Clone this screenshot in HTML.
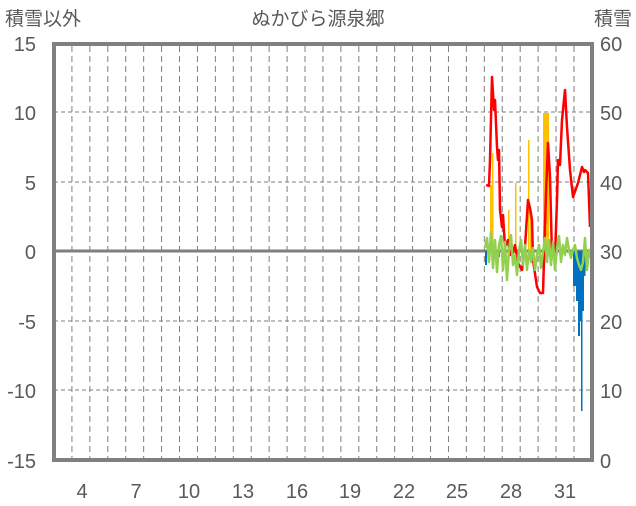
<!DOCTYPE html>
<html><head><meta charset="utf-8"><style>
html,body{margin:0;padding:0;background:#fff}
text{font-family:"Liberation Sans","Noto Sans CJK JP",sans-serif;fill:#595959}
</style></head><body>
<svg width="636" height="501" xmlns="http://www.w3.org/2000/svg">
<rect width="636" height="501" fill="#fff"/>
<g stroke="#7f7f7f" stroke-width="1" stroke-dasharray="4,3">
<line x1="54" y1="112" x2="592" y2="112"/>
<line x1="54" y1="182" x2="592" y2="182"/>
<line x1="54" y1="321" x2="592" y2="321"/>
<line x1="54" y1="390" x2="592" y2="390"/>
</g>
<g stroke="#7f7f7f" stroke-width="1" stroke-dasharray="6,4" id="vg"></g>
<line x1="54" y1="251" x2="592" y2="251" stroke="#7f7f7f" stroke-width="3"/>
<g fill="#ffc000">
<rect x="490" y="185" width="3" height="66"/>
<rect x="492" y="153" width="1.5" height="98"/>
<rect x="508" y="210" width="1.5" height="41"/>
<rect x="515" y="183" width="1.5" height="68"/>
<rect x="528" y="140" width="1.5" height="111"/>
<rect x="530" y="215" width="2" height="36"/>
<rect x="543" y="113" width="6" height="138"/>
</g>
<g fill="#0070c0">
<rect x="485" y="251" width="2" height="14"/>
<rect x="498" y="251" width="2" height="6"/>
<rect x="573" y="251" width="3" height="35"/>
<rect x="576" y="251" width="2" height="50"/>
<rect x="578" y="251" width="2" height="85"/>
<rect x="580" y="251" width="2" height="70"/>
<rect x="581" y="251" width="1.5" height="160"/>
<rect x="582" y="251" width="2" height="60"/>
<rect x="584" y="251" width="1.5" height="25"/>
</g>
<polyline fill="none" stroke="#ff0000" stroke-width="2.5" stroke-linejoin="round" points="486,185 489,186 490,160 492,77 494,110 495,100 497,147 498,160 499,150 500,210 502,227 503,215 505,247 508,240 510,255 513,253 515,245 518,263 522,270 525,247 528,200 530,208 532,220 533,260 537,287 540,293 543,293 546,193 548,143 550,177 552,257 555,257 557,200 558,160 560,165 562,120 565,90 567,127 570,170 573,197 578,183 580,175 582,167 584,172 585,170 588,173 590,227"/>
<polyline fill="none" stroke="#92d050" stroke-width="2.5" stroke-linejoin="round" points="485,248 487,238 489,262 491,232 493,268 495,240 497,272 499,245 501,236 503,270 505,242 507,280 509,250 511,235 513,265 515,255 517,275 519,250 521,240 523,265 525,245 527,270 529,250 531,262 533,248 535,270 537,255 539,245 541,268 543,252 545,238 547,262 549,240 551,265 553,242 555,270 557,248 559,236 561,262 563,245 565,255 567,238 569,250 571,258 573,250 575,245 577,258 579,265 581,270 583,262 585,238 587,270 589,250 591,258"/>
<line x1="485" y1="460" x2="592" y2="460" stroke="#7030a0" stroke-width="2.5"/>
<rect x="54" y="44" width="538" height="416" fill="none" stroke="#808080" stroke-width="4"/>
<g font-size="20" text-anchor="end">
<text x="36" y="51">15</text><text x="36" y="120">10</text><text x="36" y="190">5</text>
<text x="36" y="259">0</text><text x="36" y="329">-5</text><text x="36" y="398">-10</text><text x="36" y="468">-15</text>
</g>
<g font-size="20" text-anchor="start">
<text x="600" y="51">60</text><text x="600" y="120">50</text><text x="600" y="190">40</text>
<text x="600" y="259">30</text><text x="600" y="329">20</text><text x="600" y="398">10</text><text x="600" y="468">0</text>
</g>
<g font-size="20" text-anchor="middle">
<text x="82" y="498">4</text><text x="136" y="498">7</text><text x="189" y="498">10</text>
<text x="243" y="498">13</text><text x="297" y="498">16</text><text x="350" y="498">19</text>
<text x="404" y="498">22</text><text x="457" y="498">25</text><text x="511" y="498">28</text><text x="565" y="498">31</text>
</g>
<text x="5" y="25" font-size="19">積雪以外</text>
<text x="318" y="25" font-size="19" text-anchor="middle">ぬかびら源泉郷</text>
<text x="632" y="25" font-size="19" text-anchor="end">積雪</text>
</svg>
<script>
var g=document.getElementById('vg');
for(var i=1;i<30;i++){var x=54+i*17.93;var l=document.createElementNS('http://www.w3.org/2000/svg','line');l.setAttribute('x1',x);l.setAttribute('x2',x);l.setAttribute('y1',46);l.setAttribute('y2',458);g.appendChild(l);}
</script>
</body></html>
